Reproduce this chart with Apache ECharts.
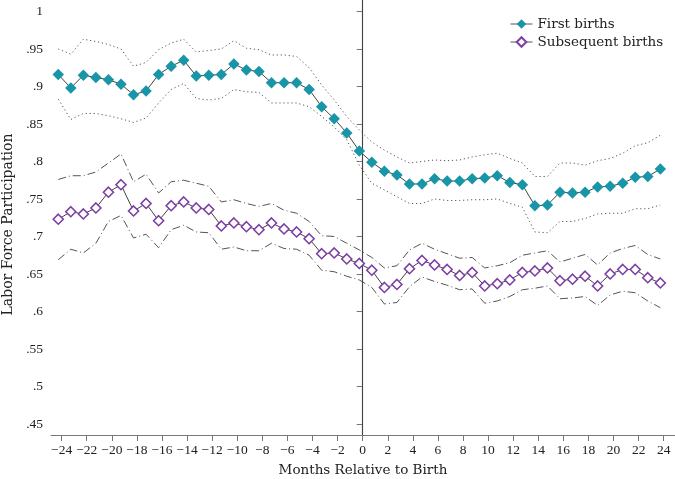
<!DOCTYPE html>
<html><head><meta charset="utf-8">
<script src="https://cdn.jsdelivr.net/npm/echarts@6/dist/echarts.min.js"></script>
<style>html,body{margin:0;padding:0;background:#fff}#c{width:675px;height:479px}</style>
</head><body><div id="c"></div>
<script>
const months = [-24,-23,-22,-21,-20,-19,-18,-17,-16,-15,-14,-13,-12,-11,-10,-9,-8,-7,-6,-5,-4,-3,-2,-1,0,1,2,3,4,5,6,7,8,9,10,11,12,13,14,15,16,17,18,19,20,21,22,23,24];
const firstBirths = [0.916,0.898,0.915,0.912,0.909,0.903,0.889,0.894,0.916,0.927,0.935,0.914,0.915,0.916,0.930,0.922,0.920,0.905,0.905,0.905,0.896,0.873,0.857,0.838,0.814,0.799,0.787,0.782,0.770,0.770,0.777,0.774,0.774,0.777,0.778,0.781,0.772,0.769,0.741,0.742,0.759,0.758,0.759,0.766,0.767,0.771,0.779,0.780,0.790];
const firstUpper = [0.950,0.943,0.963,0.960,0.956,0.950,0.927,0.932,0.949,0.958,0.963,0.946,0.948,0.950,0.961,0.951,0.949,0.942,0.942,0.940,0.925,0.902,0.882,0.860,0.842,0.826,0.815,0.806,0.798,0.800,0.802,0.801,0.802,0.806,0.809,0.811,0.804,0.798,0.780,0.780,0.798,0.798,0.795,0.801,0.804,0.811,0.821,0.825,0.835];
const firstLower = [0.883,0.856,0.864,0.864,0.861,0.857,0.852,0.858,0.878,0.896,0.904,0.884,0.882,0.884,0.896,0.893,0.892,0.878,0.878,0.878,0.873,0.860,0.846,0.829,0.795,0.771,0.762,0.753,0.744,0.744,0.750,0.748,0.748,0.749,0.749,0.750,0.744,0.739,0.706,0.705,0.720,0.720,0.724,0.730,0.731,0.731,0.737,0.737,0.742];
const subsBirths = [0.723,0.733,0.730,0.738,0.759,0.769,0.734,0.744,0.721,0.741,0.746,0.738,0.736,0.714,0.718,0.713,0.709,0.718,0.710,0.706,0.697,0.677,0.678,0.670,0.664,0.655,0.632,0.636,0.657,0.668,0.662,0.656,0.648,0.652,0.634,0.637,0.642,0.652,0.654,0.658,0.641,0.643,0.647,0.634,0.650,0.656,0.656,0.645,0.638];
const subsUpper = [0.776,0.781,0.781,0.786,0.798,0.810,0.773,0.783,0.758,0.773,0.775,0.771,0.767,0.746,0.749,0.744,0.740,0.744,0.735,0.731,0.720,0.701,0.700,0.691,0.682,0.672,0.658,0.661,0.682,0.691,0.683,0.677,0.671,0.672,0.658,0.661,0.665,0.675,0.678,0.681,0.666,0.671,0.676,0.662,0.678,0.684,0.688,0.676,0.670];
const subsLower = [0.669,0.683,0.678,0.691,0.720,0.728,0.698,0.703,0.685,0.709,0.715,0.706,0.705,0.683,0.686,0.681,0.681,0.691,0.684,0.683,0.675,0.655,0.653,0.647,0.642,0.632,0.610,0.612,0.633,0.646,0.640,0.635,0.629,0.630,0.611,0.614,0.620,0.629,0.631,0.634,0.617,0.618,0.620,0.608,0.622,0.627,0.625,0.614,0.605];
const xTicks = [-24,-22,-20,-18,-16,-14,-12,-10,-8,-6,-4,-2,0,2,4,6,8,10,12,14,16,18,20,22,24];
const yTicks = [0.45,0.5,0.55,0.6,0.65,0.7,0.75,0.8,0.85,0.9,0.95,1];

const FONT = 'Liberation Serif';
const TFONT = 'DejaVu Serif';
const TEAL = '#1896a7';
const PURPLE = '#7d3ea3';
const pair = a => months.map((m,i)=>[m,a[i]]);

const chart = echarts.init(document.getElementById('c'), null, {renderer:'canvas'});
const ciStyle = t => ({color:'#555', width:1, type:t});
chart.setOption({
  animation:false,
  backgroundColor:'#fff',
  textStyle:{fontFamily:FONT},
  grid:{left:51, right:0, top:0, bottom:44, containLabel:false, outerBoundsMode:'none'},
  legend:{
    orient:'vertical', left:505, top:12, itemWidth:22, itemHeight:12, itemGap:4,
    data:['First births','Subsequent births'],
    lineStyle:{color:'#555', width:1},
    textStyle:{fontFamily:TFONT, fontSize:13.5, color:'#222'}
  },
  xAxis:[{
    type:'value', min:-24.85, max:24.9,
    name:'Months Relative to Birth', nameLocation:'middle', nameGap:28,
    nameTextStyle:{fontFamily:TFONT, fontSize:13.5, color:'#222'},
    axisLine:{onZero:false, lineStyle:{color:'#777', width:1.2}},
    axisTick:{customValues:xTicks, length:6, lineStyle:{color:'#777'}},
    axisLabel:{customValues:xTicks, margin:8, fontSize:13.5, color:'#222', fontFamily:FONT, hideOverlap:false,
      showMinLabel:true, showMaxLabel:true,
      formatter:v=> (v<0?'\u2212'+Math.abs(v):String(v))},
    splitLine:{show:false}
  },{
    type:'value', min:-24.58, max:25.17, show:false
  }],
  yAxis:{
    type:'value', min:0.4353, max:1.0153,
    name:'Labor Force Participation', nameLocation:'middle', nameGap:32, nameRotate:90,
    nameTextStyle:{fontFamily:TFONT, fontSize:14, color:'#222', padding:[0,14,0,0]},
    axisLine:{show:true, lineStyle:{color:'#777', width:1.2}},
    axisTick:{show:true, customValues:yTicks, length:6, lineStyle:{color:'#777'}},
    axisLabel:{customValues:yTicks, margin:8, fontSize:13.5, color:'#222', fontFamily:FONT, hideOverlap:false,
      formatter:v=> String(Math.round(v*100)/100).replace(/^0/,'')},
    splitLine:{show:false}
  },
  series:[
    {name:'ref', type:'line', xAxisIndex:0, data:[], silent:true,
     markLine:{silent:true, symbol:'none', label:{show:false},
       lineStyle:{color:'#444', width:1, type:'solid'}, data:[{xAxis:0}]}},
    {name:'fu', type:'line', xAxisIndex:1, data:pair(firstUpper), showSymbol:false, lineStyle:ciStyle([1.2,2.8]), z:2},
    {name:'fl', type:'line', xAxisIndex:1, data:pair(firstLower), showSymbol:false, lineStyle:ciStyle([1.2,2.8]), z:2},
    {name:'su', type:'line', xAxisIndex:1, data:pair(subsUpper), showSymbol:false, lineStyle:ciStyle([8,3,1,3]), z:2},
    {name:'sl', type:'line', xAxisIndex:1, data:pair(subsLower), showSymbol:false, lineStyle:ciStyle([8,3,1,3]), z:2},
    {name:'First births', type:'line', xAxisIndex:1, data:pair(firstBirths),
     symbol:'diamond', symbolSize:11.5, itemStyle:{color:TEAL, borderColor:TEAL, borderWidth:0},
     lineStyle:{color:'#444', width:1}, z:5},
    {name:'Subsequent births', type:'line', xAxisIndex:1, data:pair(subsBirths),
     symbol:'diamond', symbolSize:10, itemStyle:{color:'#fff', borderColor:PURPLE, borderWidth:1.6},
     lineStyle:{color:'#444', width:1}, z:5}
  ]
});
</script></body></html>
